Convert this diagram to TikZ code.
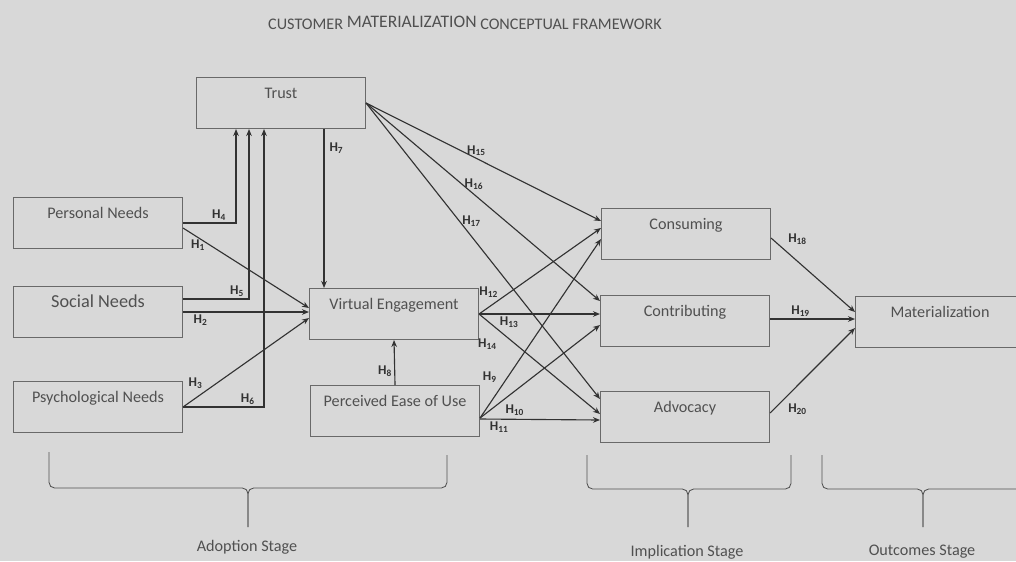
\documentclass[tikz,border=0pt]{standalone}
\usepackage{fontspec}
\setmainfont{Carlito}
\usetikzlibrary{arrows.meta,calc,positioning}
\definecolor{framebg}  {RGB}{216,216,216}
\definecolor{boxline}  {RGB}{105,105,105}
\definecolor{inkgray}  {RGB}{80,80,80}
\definecolor{arrowgray}{RGB}{50,50,50}
\newcommand{\hyp}[1]{\textbf{H\textsubscript{#1}}}

\begin{document}
\begin{tikzpicture}[
  x=0.025cm, y=-0.025cm,
  >={Stealth[length=5pt,width=4pt]},
  box/.style={draw=boxline,line width=0.7pt,anchor=north west,
              minimum width=4.225cm,inner xsep=0pt,inner ysep=0pt,
              text height=0.52cm,text depth=0.755cm,
              font=\fontsize{11.5}{13}\selectfont,text=inkgray},
  arr/.style={->,line width=0.8pt,draw=arrowgray},
  hlab/.style={font=\fontsize{9.5}{10}\selectfont,text=arrowgray,inner sep=1.5pt},
  stagebrace/.style={draw=inkgray,line width=0.6pt,rounded corners=4pt},
  stage/.style={font=\fontsize{11.5}{13}\selectfont,text=inkgray},
]

\fill[framebg] (0,0) rectangle (1016,561);
\useasboundingbox (0,0) rectangle (1016,561);

%% -- Title ---------------------------------------------------------------
\node[font=\fontsize{11.5}{13}\selectfont,text=inkgray] (title) at (465,23)
  {CUSTOMER \raisebox{1.5pt}{\fontsize{12.5}{13}\selectfont MATERIALIZATION} CONCEPTUAL FRAMEWORK};

%% -- Adoption stage ------------------------------------------------------
\node[box] (trust) at (196,77)  {Trust};
\node[box] (pn)    at (13,197)  {Personal Needs};
\node[box,font=\fontsize{13}{15}\selectfont] (sn) at (13,286) {Social Needs};
\node[box] (psn)   at (13,381)  {Psychological Needs};
\node[box] (ve)    at (309,288) {Virtual Engagement};
\node[box] (peu)   at (310,385) {Perceived Ease of Use};

%% -- Implication and outcomes stages -------------------------------------
\node[box] (con)   at (601,208) {Consuming};
\node[box] (ctb)   at (600,295) {Contributing};
\node[box] (adv)   at (600,391) {Advocacy};
\node[box] (mat)   at (855,296) {Materialization};

%% -- Needs -> Trust ------------------------------------------------------
\draw[arr] (pn.east) -| node[hlab,pos=0.34,above]{\hyp{4}}
  ($(trust.south)+(-45,0)$);
\draw[arr] ($(sn.east)+(0,-13)$) -| node[hlab,pos=0.41,above]{\hyp{5}}
  ($(trust.south)+(-32,0)$);
\draw[arr] (psn.east) -| node[hlab,pos=0.4,above]{\hyp{6}}
  ($(trust.south)+(-17,0)$);

%% -- Needs -> Virtual Engagement -----------------------------------------
\draw[arr] ($(pn.east)+(0,5)$) --
  node[hlab,pos=0.12,below]{\hyp{1}} ($(ve.west)+(0,-6)$);
\draw[arr] (sn.east) --
  node[hlab,pos=0.14,below]{\hyp{2}} (sn.east -| ve.west);
\draw[arr] (psn.east) --
  node[hlab,pos=0.1,above=5pt]{\hyp{3}} ($(ve.west)+(0,4)$);

%% -- Trust / Ease of Use -> Virtual Engagement ---------------------------
\draw[arr] ($(trust.south)+(43,0)$) --
  node[hlab,pos=0.12,right=2pt]{\hyp{7}} ($(ve.north)+(-70,0)$);
\draw[arr] (peu.north) --
  node[hlab,pos=0.3,left]{\hyp{8}} (ve.south);

%% -- Trust -> implication stage ------------------------------------------
\draw[arr] (trust.east) --
  node[hlab,pos=0.47,above]{\hyp{15}} ($(con.west)+(0,-13)$);
\draw[arr] (trust.east) --
  node[hlab,pos=0.41,right]{\hyp{16}} ($(ctb.west)+(0,-20)$);
\draw[arr] (trust.east) --
  node[hlab,pos=0.40,right]{\hyp{17}} ($(adv.west)+(0,-18)$);

%% -- Virtual Engagement -> implication stage -----------------------------
\draw[arr] (ve.east) --
  node[hlab,pos=0.08,above=5pt]{\hyp{12}} ($(con.west)+(0,-6)$);
\draw[arr] (ve.east) --
  node[hlab,pos=0.25,below]{\hyp{13}} (ve.east -| ctb.west);
\draw[arr] (ve.east) --
  node[hlab,pos=0.07,below=11pt]{\hyp{14}} ($(adv.west)+(0,-3)$);

%% -- Ease of Use -> implication stage ------------------------------------
\draw[arr] ($(peu.east)+(0,7)$) --
  node[hlab,pos=0.23,left=6pt]{\hyp{9}} ($(con.west)+(0,5)$);
\draw[arr] ($(peu.east)+(0,7)$) --
  node[hlab,pos=0.29,below=8pt]{\hyp{10}} ($(ctb.west)+(0,4)$);
\draw[arr] ($(peu.east)+(0,8)$) --
  node[hlab,pos=0.16,below]{\hyp{11}} ($(adv.west)+(0,3)$);

%% -- implication -> Materialization --------------------------------------
\draw[arr] ($(con.east)+(0,4)$) --
  node[hlab,pos=0.15,above right=2pt]{\hyp{18}} ($(mat.west)+(0,-10)$);
\draw[arr] ($(ctb.east)+(0,-2)$) --
  node[hlab,pos=0.36,above]{\hyp{19}} ($(mat.west)+(0,-3)$);
\draw[arr] ($(adv.east)+(0,-4)$) --
  node[hlab,pos=0.16,below right=2pt]{\hyp{20}} ($(mat.west)+(0,6)$);

%% -- Stage braces ----------------------------------------------------------
\draw[stagebrace] (49,452) |- (248,488) -- (248,527);
\draw[stagebrace] (447,455) |- (248,488) -- (248,527);
\node[stage] (adoption) at (247,547) {Adoption Stage};

\draw[stagebrace] (587,455) |- (688,489) -- (688,527);
\draw[stagebrace] (791,455) |- (688,489) -- (688,527);
\node[stage] (implication) at (687,552) {Implication Stage};

\draw[stagebrace] (822,455) |- (923,489) -- (923,527);
\draw[stagebrace] (1024,455) |- (923,489) -- (923,527);
\node[stage] (outcomes) at (922,552) {Outcomes Stage};

\end{tikzpicture}
\end{document}
